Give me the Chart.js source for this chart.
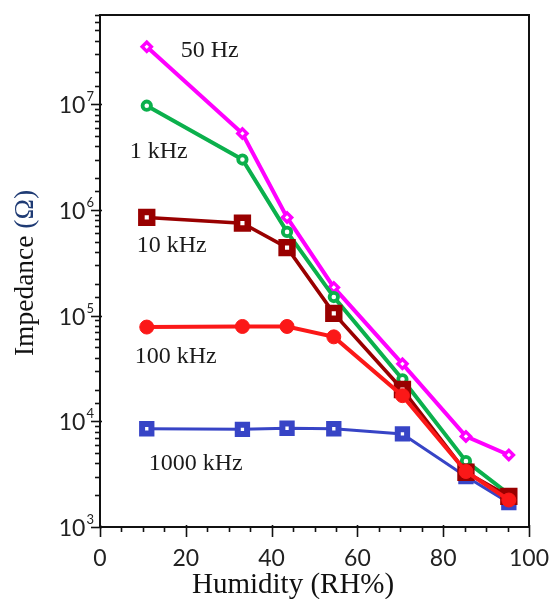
<!DOCTYPE html>
<html>
<head>
<meta charset="utf-8">
<script src="https://cdn.jsdelivr.net/npm/chart.js@4.4.1/dist/chart.umd.min.js"></script>
<style>
  html, body { margin: 0; padding: 0; background: #fff; }
  canvas { display: block; }
</style>
</head>
<body>
<canvas id="impChart" width="554" height="599"></canvas>
<script>
// relative humidity steps (RH%)
const humidity = [10.9, 33.2, 43.6, 54.5, 70.5, 85.3, 95.3];

// impedance (ohm) at each humidity step, one list per test frequency
const z50Hz    = [3.5e7, 5.3e6, 8.5e5, 1.85e5, 3.5e4, 7.2e3, 4.8e3];
const z1kHz    = [9.7e6, 3.0e6, 6.2e5, 1.5e5, 2.5e4, 4.2e3, 2.05e3];
const z10kHz   = [8.5e5, 7.5e5, 4.4e5, 1.05e5, 2.0e4, 3.3e3, 1.95e3];
const z100kHz  = [7.8e4, 7.9e4, 7.9e4, 6.3e4, 1.75e4, 3.35e3, 1.8e3];
const z1000kHz = [8.5e3, 8.4e3, 8.6e3, 8.5e3, 7.6e3, 3.0e3, 1.7e3];

const seriesNames = ['50 Hz', '1 kHz', '10 kHz', '100 kHz', '1000 kHz'];
const xTickLabels = [0, 20, 40, 60, 80, 100];

const serif = '"Liberation Serif", "Times New Roman", serif';
const sans = 'Lato, "Open Sans", sans-serif';

const pts = vals => vals.map((v, i) => ({ x: humidity[i], y: v }));

// where each series name sits, relative to the series' first point (px)
const nameOffsets = [[34, 10], [-17, 52], [-10, 35], [-12, 36], [2, 41]];

const frameAndTicks = {
  id: 'frameAndTicks',
  afterDraw(chart) {
    const { ctx, chartArea: a, scales: { x, y } } = chart;
    ctx.save();
    ctx.strokeStyle = '#111';
    ctx.lineWidth = 2;
    ctx.beginPath();
    ctx.moveTo(a.left - 1, a.top);
    ctx.lineTo(a.right, a.top);
    ctx.lineTo(a.right, a.bottom);
    ctx.stroke();

    // x ticks: long ones on the labelled values, short ones every 5
    ctx.lineWidth = 1.6;
    x.ticks.forEach(t => {
      const px = Math.round(x.getPixelForValue(t.value)) + 0.5;
      const major = xTickLabels.includes(t.value);
      ctx.beginPath();
      ctx.moveTo(px, a.bottom - (major ? 2 : 0));
      ctx.lineTo(px, a.bottom + (major ? 10 : 5));
      ctx.stroke();
    });

    // y ticks: decades long, 2..9 short
    y.ticks.forEach(t => {
      const py = Math.round(y.getPixelForValue(t.value)) + 0.5;
      const e = Math.log10(t.value);
      const major = Math.abs(e - Math.round(e)) < 1e-9;
      ctx.beginPath();
      ctx.moveTo(a.left - (major ? 9 : 5), py);
      ctx.lineTo(a.left + (major ? 2 : 0), py);
      ctx.stroke();
      if (major) {
        const exp = String(Math.round(e));
        ctx.fillStyle = '#222';
        ctx.textBaseline = 'middle';
        ctx.font = '13px ' + sans;
        const ew = ctx.measureText(exp).width;
        ctx.textAlign = 'right';
        ctx.fillText(exp, a.left - 6, py - 8);
        ctx.font = '23px ' + sans;
        ctx.fillText('10', a.left - 7 - ew, py + 1);
      }
    });

    // series names next to their curves
    ctx.fillStyle = '#1a1a1a';
    ctx.font = '24px ' + serif;
    ctx.textAlign = 'left';
    ctx.textBaseline = 'alphabetic';
    chart.data.datasets.forEach((ds, i) => {
      const p0 = ds.data[0];
      const px = x.getPixelForValue(p0.x) + nameOffsets[i][0];
      const py = y.getPixelForValue(p0.y) + nameOffsets[i][1];
      ctx.fillText(seriesNames[i], px, py);
    });

    // x axis title, sitting a little left of the axis centre
    ctx.fillStyle = '#111';
    ctx.font = '29px ' + serif;
    ctx.textAlign = 'center';
    ctx.fillText('Humidity (RH%)', x.getPixelForValue(45), 593);

    // y axis title, unit in blue
    ctx.textAlign = 'left';
    ctx.translate(33, (a.top + a.bottom) / 2 + 2);
    ctx.rotate(-Math.PI / 2);
    ctx.font = '27.5px ' + serif;
    const head = 'Impedance ';
    const unit = '(\u03A9)';
    const hw = ctx.measureText(head).width;
    const uw = ctx.measureText(unit).width;
    let sx = -(hw + uw) / 2;
    ctx.fillStyle = '#111';
    ctx.fillText(head, sx, 0);
    ctx.fillStyle = '#1f3b74';
    ctx.fillText(unit, sx + hw, 0);
    ctx.restore();
  }
};

new Chart(document.getElementById('impChart'), {
  type: 'line',
  data: {
    datasets: [
      {
        label: seriesNames[0], data: pts(z50Hz), order: 4,
        borderColor: '#ff00ff', borderWidth: 4,
        pointStyle: 'rectRot', pointRadius: 4.6, pointBorderWidth: 3.4,
        pointBorderColor: '#ff00ff', pointBackgroundColor: '#fff'
      },
      {
        label: seriesNames[1], data: pts(z1kHz), order: 2,
        borderColor: '#0bb04c', borderWidth: 4,
        pointStyle: 'circle', pointRadius: 4.2, pointBorderWidth: 3.8,
        pointBorderColor: '#0bb04c', pointBackgroundColor: '#fff'
      },
      {
        label: seriesNames[2], data: pts(z10kHz), order: 1,
        borderColor: '#990000', borderWidth: 3.6,
        pointStyle: 'rect', pointRadius: 7.6, pointBorderWidth: 6.6,
        pointBorderColor: '#990000', pointBackgroundColor: '#fff'
      },
      {
        label: seriesNames[3], data: pts(z100kHz), order: 0,
        borderColor: '#fb1818', borderWidth: 4,
        pointStyle: 'circle', pointRadius: 7, pointBorderWidth: 1,
        pointBorderColor: '#fb1818', pointBackgroundColor: '#fb1818'
      },
      {
        label: seriesNames[4], data: pts(z1000kHz), order: 3,
        borderColor: '#3744c6', borderWidth: 3,
        pointStyle: 'rect', pointRadius: 6.6, pointBorderWidth: 6,
        pointBorderColor: '#3744c6', pointBackgroundColor: '#fff'
      }
    ]
  },
  options: {
    responsive: false,
    animation: false,
    devicePixelRatio: 1,
    layout: { padding: { top: 15, right: 25, left: 0, bottom: 0 } },
    plugins: { legend: { display: false }, tooltip: { enabled: false } },
    scales: {
      x: {
        type: 'linear', min: 0, max: 100,
        grid: { display: false },
        border: { display: true, color: '#111', width: 2 },
        ticks: {
          stepSize: 5, autoSkip: false, maxRotation: 0, padding: 10,
          color: '#222', font: { family: sans, size: 23 },
          callback: v => (xTickLabels.includes(v) ? String(v) : '')
        },
        afterFit: s => { s.height = 72; s.paddingLeft = 0; s.paddingRight = 0; }
      },
      y: {
        type: 'logarithmic', min: 1e3, max: 7e7,
        grid: { display: false },
        border: { display: true, color: '#111', width: 2 },
        ticks: { display: false },
        afterFit: s => { s.width = 100; }
      }
    }
  },
  plugins: [frameAndTicks]
});
</script>
</body>
</html>
